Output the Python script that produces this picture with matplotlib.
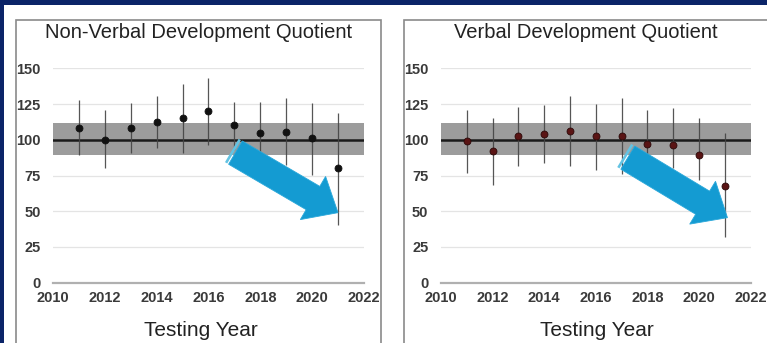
import numpy as np
import matplotlib
matplotlib.use("Agg")
import matplotlib.pyplot as plt
from matplotlib.patches import Rectangle, Polygon

plt.rcParams['font.family'] = ['Liberation Sans', 'DejaVu Sans']

# ---- data -------------------------------------------------------------
years = [2011, 2012, 2013, 2014, 2015, 2016, 2017, 2018, 2019, 2020, 2021]

nonverbal_mean = [108, 100, 108.5, 112.5, 115.5, 120, 110, 105, 105.5, 101, 80]
nonverbal_high = [127.5, 121, 125.5, 130.5, 139, 143, 126.5, 126.5, 129, 126, 118.5]
nonverbal_low = [89, 80, 90.5, 94, 91, 96, 93, 88, 82, 75.5, 40.5]

verbal_mean = [99, 92, 102.5, 104, 106, 102.5, 102.5, 97, 96.5, 89.5, 68]
verbal_high = [121, 115, 123, 124, 130.5, 125, 129, 120.5, 122, 115, 104.5]
verbal_low = [77, 68.5, 81.5, 83.5, 81.5, 78.5, 76, 86, 80, 72, 32]

norm_mean = 100
norm_low, norm_high = 89, 112

y_ticks = [0, 25, 50, 75, 100, 125, 150]
x_ticks = [2010, 2012, 2014, 2016, 2018, 2020, 2022]

titles = ["Non-Verbal Development Quotient", "Verbal Development Quotient"]
x_label = "Testing Year"

# arrow ends (year, score): tail, tip
arrow_ends = [((2016.9, 92.5), (2021.0, 49.0)),
              ((2017.1, 89.0), (2021.1, 45.5))]

# ---- figure ----------------------------------------------------------
W, H = 767, 343
fig = plt.figure(figsize=(W / 100, H / 100), dpi=100)
fig.patch.set_facecolor("#0b2468")

# white slide area
fig.patches.append(Rectangle((4 / W, 0), 1, (H - 5) / H, transform=fig.transFigure,
                             facecolor="white", edgecolor="none", zorder=-3))
# panel frames
for x0, x1 in [(15.5, 380.5), (404, 790)]:
    fig.patches.append(Rectangle((x0 / W, -0.1), (x1 - x0) / W, (H - 20) / H + 0.1,
                                 transform=fig.transFigure, facecolor="white",
                                 edgecolor="#8a8a8a", lw=1.2, zorder=-2))

ax_px = [(53.1, 363.9), (440.9, 750.7)]
y_top_px, y_bot_px = 68.3, 282.7
xlabel_center = [201, 597]

series = [(nonverbal_mean, nonverbal_low, nonverbal_high, "#111111", "#111111"),
          (verbal_mean, verbal_low, verbal_high, "#5a1414", "#2a0808")]

arrow_col = "#149bd2"
stripe_col = "#63c3e3"

for i, (x0, x1) in enumerate(ax_px):
    ax = fig.add_axes([x0 / W, (H - y_bot_px) / H, (x1 - x0) / W, (y_bot_px - y_top_px) / H])
    ax.set_facecolor("none")
    ax.set_xlim(2010, 2022)
    ax.set_ylim(0, 150)
    for s in ax.spines.values():
        s.set_visible(False)

    for yt in y_ticks[1:]:
        ax.axhline(yt, color="#e4e4e4", lw=0.9, zorder=1)
    ax.axhline(0, color="#b0b0b0", lw=1.6, zorder=1, clip_on=False)

    ax.axhspan(norm_low, norm_high, color="#9c9c9c", zorder=2, lw=0)
    ax.axhline(norm_mean, color="#1a1a1a", lw=1.8, zorder=3)

    mean, low, high, fc, ec = series[i]
    ax.vlines(years, low, high, color="#444444", lw=0.9, zorder=4, alpha=0.9)
    ax.plot(years, mean, "o", ms=5, mfc=fc, mec=ec, mew=0.6, zorder=5, ls="none")

    ax.set_yticks(y_ticks)
    ax.set_xticks(x_ticks)
    ax.set_xticklabels([str(t) for t in x_ticks])
    ax.tick_params(length=0, labelsize=10.5, pad=6)
    ax.tick_params(axis="y", pad=9)
    for lab in ax.get_xticklabels() + ax.get_yticklabels():
        lab.set_fontweight("bold")
        lab.set_color("#3a3a3a")

    ax.text(0.5 - 10 / (x1 - x0), 1 + 36 / (y_bot_px - y_top_px), titles[i],
            transform=ax.transAxes, ha="center", va="center", fontsize=14.5, color="#222222")
    ax.text((xlabel_center[i] - x0) / (x1 - x0), -48 / (y_bot_px - y_top_px), x_label,
            transform=ax.transAxes, ha="center", va="center", fontsize=15, color="#222222")

    # block arrow with striped tail, built in display pixels
    (tx, ty), (hx, hy) = arrow_ends[i]
    p0 = ax.transData.transform((tx, ty))
    p1 = ax.transData.transform((hx, hy))
    d = p1 - p0
    L = np.hypot(*d)
    u = d / L
    n = np.array([-u[1], u[0]])
    shaft_w, head_w, head_l = 27, 50, 29
    stripe, gap = 2.6, 1.6

    def pt(a, b):
        return p0 + u * a + n * b

    body_start = stripe + gap
    body = [pt(body_start, shaft_w / 2), pt(L - head_l, shaft_w / 2), pt(L - head_l, head_w / 2),
            pt(L, 0), pt(L - head_l, -head_w / 2), pt(L - head_l, -shaft_w / 2),
            pt(body_start, -shaft_w / 2)]
    strip = [pt(0, shaft_w / 2), pt(stripe, shaft_w / 2), pt(stripe, -shaft_w / 2), pt(0, -shaft_w / 2)]
    fig.patches.append(Polygon(strip, closed=True, transform=None, facecolor=stripe_col,
                               edgecolor="none", zorder=10))
    fig.patches.append(Polygon(body, closed=True, transform=None, facecolor=arrow_col,
                               edgecolor="#2aa8da", lw=0.6, zorder=10))

fig.savefig("out.png", dpi=100, facecolor=fig.get_facecolor())
